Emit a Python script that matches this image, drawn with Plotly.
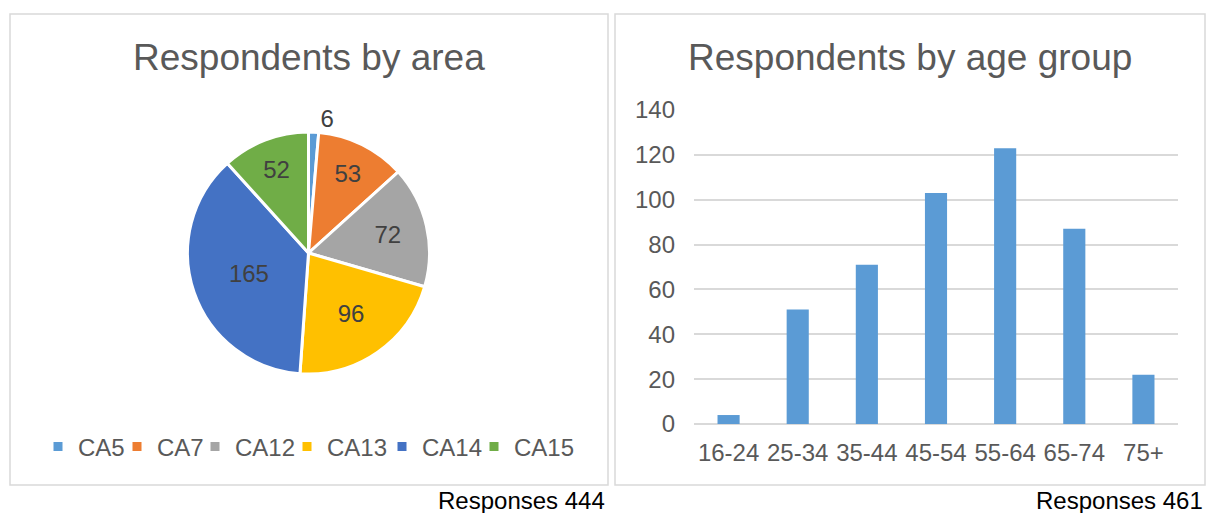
import plotly.graph_objects as go

# ---- data ----
areas = ["CA5", "CA7", "CA12", "CA13", "CA14", "CA15"]
area_counts = [6, 53, 72, 96, 165, 52]
area_colors = ["#5B9BD5", "#ED7D31", "#A5A5A5", "#FFC000", "#4472C4", "#70AD47"]

age_groups = ["16-24", "25-34", "35-44", "45-54", "55-64", "65-74", "75+"]
age_counts = [4, 51, 71, 103, 123, 87, 22]

y_ticks = [0, 20, 40, 60, 80, 100, 120, 140]

# legend entry widths (style only)
legend_widths = [34, 33, 47, 50, 47, 62]

W, H = 1206, 513
FONT = "Liberation Sans, Arial, sans-serif"


def px(x):
    return x / W


def py(y):
    return 1 - y / H


fig = go.Figure()

fig.add_trace(go.Pie(
    labels=areas,
    values=area_counts,
    sort=False,
    direction="clockwise",
    rotation=0,
    marker=dict(colors=area_colors, line=dict(color="white", width=3)),
    textinfo="value",
    textposition=["outside", "inside", "inside", "inside", "inside", "inside"],
    insidetextorientation="horizontal",
    textfont=dict(family=FONT, size=24, color="#404040"),
    domain=dict(x=[px(187), px(430)], y=[py(374), py(132)]),
    showlegend=False,
    hoverinfo="label+value",
))

# legend entries for the pie categories (no plotted points)
for name, color, lw in zip(areas, area_colors, legend_widths):
    fig.add_trace(go.Scatter(
        x=[None], y=[None], mode="markers", name=name,
        marker=dict(symbol="square", size=9, color=color),
        xaxis="x2", yaxis="y2",
        showlegend=True,
        legendwidth=lw,
        hoverinfo="skip",
    ))

fig.add_trace(go.Bar(
    x=age_groups,
    y=age_counts,
    marker=dict(color="#5B9BD5", line=dict(width=0)),
    showlegend=False,
    xaxis="x",
    yaxis="y",
))

fig.update_layout(
    width=W, height=H,
    showlegend=True,
    margin=dict(l=0, r=0, t=0, b=0, pad=0, autoexpand=False),
    paper_bgcolor="white",
    plot_bgcolor="rgba(0,0,0,0)",
    font=dict(family=FONT, size=24, color="#595959"),
    bargap=0.68,
    xaxis=dict(
        domain=[px(694), px(1178)],
        showgrid=False,
        showline=False,
        ticks="",
        tickfont=dict(size=24, color="#595959"),
        ticklabelstandoff=12,
        automargin=False,
        fixedrange=True,
    ),
    yaxis=dict(
        domain=[py(424), py(110)],
        range=[0, 140],
        tickvals=y_ticks,
        showgrid=True,
        gridcolor="#D9D9D9",
        gridwidth=1.5,
        zeroline=True,
        zerolinecolor="#D9D9D9",
        zerolinewidth=1.5,
        showline=False,
        ticks="",
        tickfont=dict(size=24, color="#595959"),
        ticklabelstandoff=18,
        automargin=False,
        fixedrange=True,
    ),
    xaxis2=dict(domain=[0, 0.01], range=[0, 1], visible=False, fixedrange=True),
    yaxis2=dict(domain=[0, 0.01], range=[0, 1], visible=False, fixedrange=True, anchor="x2"),
    legend=dict(
        orientation="h",
        x=px(38), xanchor="left",
        y=py(447), yanchor="middle",
        font=dict(size=24, color="#595959"),
        itemwidth=30,
        traceorder="normal",
        bgcolor="rgba(0,0,0,0)",
    ),
    shapes=[
        dict(type="rect", xref="paper", yref="paper",
             x0=px(10), x1=px(608), y0=py(485), y1=py(14),
             line=dict(color="#D9D9D9", width=1.5)),
        dict(type="rect", xref="paper", yref="paper",
             x0=px(615), x1=px(1205), y0=py(485), y1=py(14),
             line=dict(color="#D9D9D9", width=1.5)),
    ],
    annotations=[
        dict(text="Respondents by area", x=px(309), y=py(57), xref="paper", yref="paper",
             showarrow=False, xanchor="center", yanchor="middle",
             font=dict(size=37, color="#595959")),
        dict(text="Respondents by age group", x=px(910), y=py(57), xref="paper", yref="paper",
             showarrow=False, xanchor="center", yanchor="middle",
             font=dict(size=37, color="#595959")),
        dict(text="Responses 444", x=px(607), y=py(500), xref="paper", yref="paper",
             showarrow=False, xanchor="right", yanchor="middle",
             font=dict(size=24, color="#000000")),
        dict(text="Responses 461", x=px(1205), y=py(500), xref="paper", yref="paper",
             showarrow=False, xanchor="right", yanchor="middle",
             font=dict(size=24, color="#000000")),
    ],
)

fig.write_html("out.html")
